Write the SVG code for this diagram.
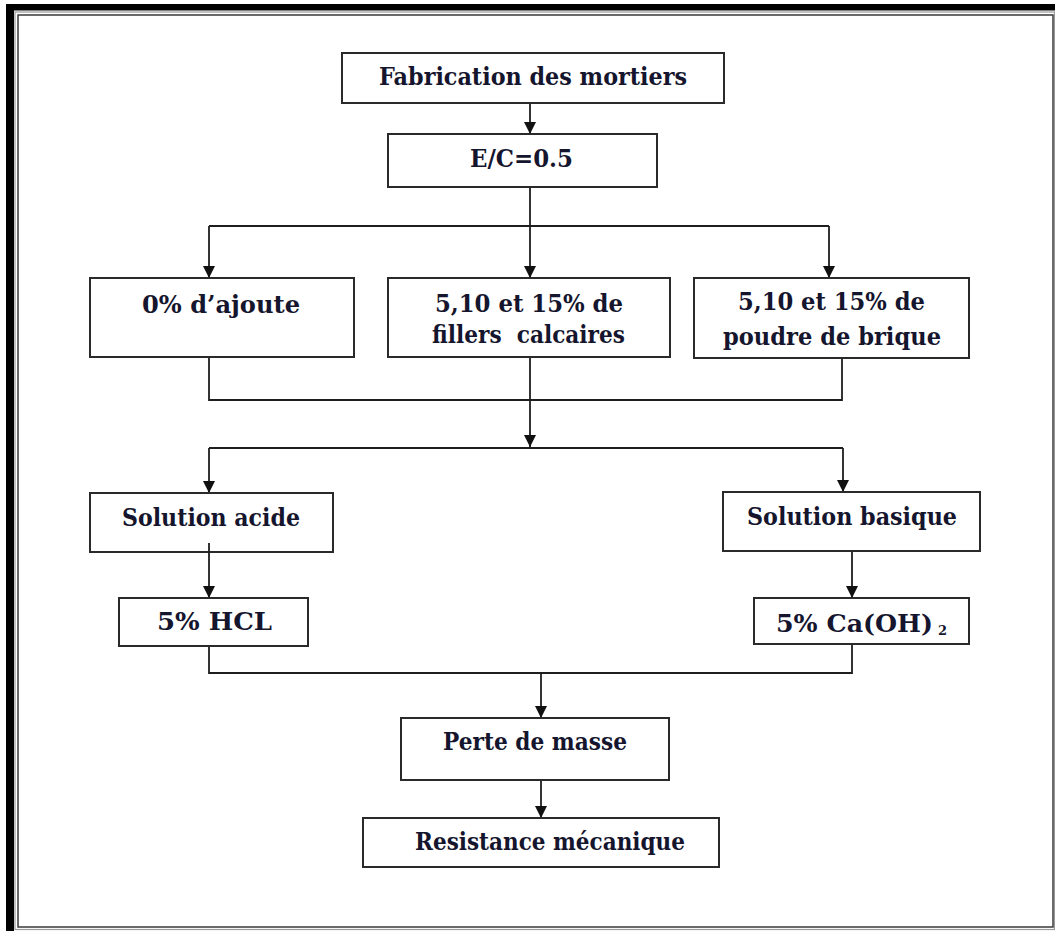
<svg xmlns="http://www.w3.org/2000/svg" width="1055" height="931" viewBox="0 0 1055 931">
<style>
.box{fill:#fff;stroke:#2a2a2a;stroke-width:2}
.t{font-family:'DejaVu Serif','Liberation Serif',serif;font-weight:700;font-size:24px;fill:#15152e}
.c{fill:none;stroke:#1e1e1e;stroke-width:1.8}
</style>
<defs>
<marker id="ah" viewBox="0 0 12 12" refX="12" refY="6" markerWidth="12" markerHeight="12" markerUnits="userSpaceOnUse" orient="auto">
<path d="M0,0 L12,6 L0,12 z" fill="#111"/>
</marker>
</defs>
<rect width="1055" height="931" fill="#fff"/>
<g id="frame">
<rect x="6" y="4" width="8" height="927" fill="#000"/>
<rect x="6" y="4" width="1049" height="6.5" fill="#000"/>
<rect x="15" y="12" width="1039.5" height="917.5" fill="none" stroke="#9a9a9a" stroke-width="1.2"/>
<rect x="18" y="15" width="1035" height="912" fill="none" stroke="#3a3a3a" stroke-width="1.5"/>
</g>
<g id="connectors">
<path class="c" d="M530,103 V134" marker-end="url(#ah)"/>
<path class="c" d="M530,187 V226 M209,226 H829"/>
<path class="c" d="M209,226 V278" marker-end="url(#ah)"/>
<path class="c" d="M530,226 V278" marker-end="url(#ah)"/>
<path class="c" d="M829,226 V278" marker-end="url(#ah)"/>
<path class="c" d="M209,357 V400 H842 V358 M530,357 V400"/>
<path class="c" d="M530,400 V447" marker-end="url(#ah)"/>
<path class="c" d="M209,448 H843"/>
<path class="c" d="M209,448 V493" marker-end="url(#ah)"/>
<path class="c" d="M843,448 V492" marker-end="url(#ah)"/>
<path class="c" d="M852,551 V598" marker-end="url(#ah)"/>
<path class="c" d="M209,646 V673 H852 V644"/>
<path class="c" d="M541,673 V718" marker-end="url(#ah)"/>
<path class="c" d="M541,780 V818" marker-end="url(#ah)"/>
</g>
<g id="n1"><rect class="box" x="342" y="53" width="382" height="50"/><text class="t" x="379" y="85" textLength="308" lengthAdjust="spacingAndGlyphs">Fabrication des mortiers</text></g>
<g id="n2"><rect class="box" x="388" y="134" width="269" height="53"/><text class="t" x="470" y="167" textLength="103" lengthAdjust="spacingAndGlyphs">E/C=0.5</text></g>
<g id="n3"><rect class="box" x="90" y="278" width="264" height="79"/><text class="t" x="142" y="313" textLength="158" lengthAdjust="spacingAndGlyphs">0% d’ajoute</text></g>
<g id="n4"><rect class="box" x="388" y="278" width="282" height="79"/><text class="t" x="435" y="312" textLength="188" lengthAdjust="spacingAndGlyphs">5,10 et 15% de</text><text class="t" x="432" y="343" textLength="193" lengthAdjust="spacingAndGlyphs" xml:space="preserve">fillers  calcaires</text></g>
<g id="n5"><rect class="box" x="694" y="278" width="275" height="80"/><text class="t" x="738" y="310" textLength="187" lengthAdjust="spacingAndGlyphs">5,10 et 15% de</text><text class="t" x="723" y="345" textLength="218" lengthAdjust="spacingAndGlyphs">poudre de brique</text></g>
<g id="n6"><rect class="box" x="90" y="493" width="243" height="59"/><text class="t" x="122" y="526" textLength="178" lengthAdjust="spacingAndGlyphs">Solution acide</text></g>
<path class="c" d="M209,543 V598" marker-end="url(#ah)"/>
<g id="n7"><rect class="box" x="119" y="598" width="189" height="48"/><text class="t" x="157" y="630" textLength="115" lengthAdjust="spacingAndGlyphs">5% HCL</text></g>
<g id="n8"><rect class="box" x="723" y="492" width="257" height="59"/><text class="t" x="747" y="525" textLength="210" lengthAdjust="spacingAndGlyphs">Solution basique</text></g>
<g id="n9"><rect class="box" x="754" y="598" width="215" height="46"/><text class="t" x="776" y="632" textLength="157" lengthAdjust="spacingAndGlyphs">5% Ca(OH)</text><text class="t" x="938" y="635" style="font-size:13px">2</text></g>
<g id="n10"><rect class="box" x="401" y="718" width="268" height="62"/><text class="t" x="443" y="750" textLength="184" lengthAdjust="spacingAndGlyphs">Perte de masse</text></g>
<g id="n11"><rect class="box" x="363" y="818" width="356" height="49"/><text class="t" x="415" y="850" textLength="270" lengthAdjust="spacingAndGlyphs">Resistance mécanique</text></g>
</svg>
